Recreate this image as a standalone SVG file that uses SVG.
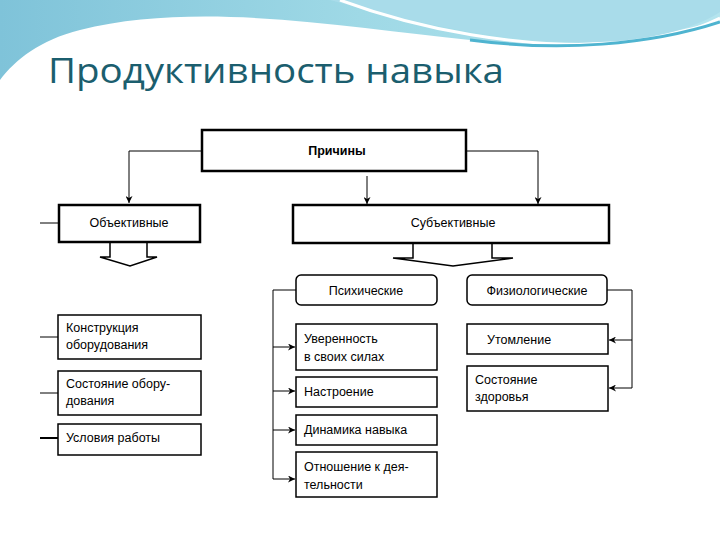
<svg xmlns="http://www.w3.org/2000/svg" width="720" height="540" viewBox="0 0 720 540">
<defs>
<linearGradient id="g" x1="0" y1="0" x2="1" y2="0"><stop offset="0" stop-color="#7fc3d9"/><stop offset="0.5" stop-color="#9fd9e6"/><stop offset="1" stop-color="#b4e4ee"/></linearGradient>
<marker id="a" viewBox="0 0 10 10" refX="10" refY="5" markerWidth="7" markerHeight="7" orient="auto"><path d="M0,0 L10,5 L0,10 L3,5 z" fill="#000"/></marker>
<style>
.b{fill:#fff;stroke:#000;stroke-width:1.5}
.h{fill:#fff;stroke:#000;stroke-width:2.5}
.t{font-family:"Liberation Sans",Arial,sans-serif;font-size:12.5px;fill:#000}
.c{fill:none;stroke:#000;stroke-width:1}
</style>
</defs>
<rect width="720" height="540" fill="#fff"/>
<path d="M0,0 H720 V20 C650,40 560,50 470,40 C350,28 200,0 80,30 C40,40 15,60 0,80 Z" fill="url(#g)"/>
<path d="M330,0 C420,25 520,45 600,42 C660,40 700,25 720,12 V0 Z" fill="#a9dcea"/>
<path d="M340,0 C420,30 520,48 610,44 C665,41 700,28 720,18" fill="none" stroke="#fff" stroke-width="3"/>
<path d="M470,40 C560,52 650,45 720,22" fill="none" stroke="#4fb4d0" stroke-width="3"/>
<text x="48" y="83" font-family="Open Sans, sans-serif" font-size="34" fill="#1b5e6e" textLength="456" lengthAdjust="spacingAndGlyphs">Продуктивность навыка</text>

<g id="connectors">
<path class="c" d="M202,151 H129 V203" marker-end="url(#a)"/>
<path class="c" d="M466,151 H538 V204" marker-end="url(#a)"/>
<path class="c" d="M367,176 V204" marker-end="url(#a)"/>
<path class="c" d="M40,223 H59"/>
<path class="c" d="M40,337 H58 M40,393 H58"/>
<path d="M40,438 H58" stroke="#000" stroke-width="2"/>
<path class="c" d="M296,290 H273 V479"/>
<path class="c" d="M273,347 H295" marker-end="url(#a)"/>
<path class="c" d="M273,391 H295" marker-end="url(#a)"/>
<path class="c" d="M273,430 H295" marker-end="url(#a)"/>
<path class="c" d="M273,479 H295" marker-end="url(#a)"/>
<path class="c" d="M607,290 H632 V388"/>
<path class="c" d="M632,340 H609" marker-end="url(#a)"/>
<path class="c" d="M632,388 H609" marker-end="url(#a)"/>
<path class="b" d="M110,242 V257 H100 L130,266 L157,257 H147 V242"/>
<path class="b" d="M413,243 V258 H393 L453,266 L513,258 H492 V243"/>
</g>

<g id="prichiny"><rect class="h" x="202" y="130" width="264" height="41"/><text class="t" x="337" y="155" text-anchor="middle" font-weight="bold">Причины</text></g>
<g id="obj"><rect class="h" x="59" y="205" width="141" height="37"/><text class="t" x="129" y="227" text-anchor="middle">Объективные</text></g>
<g id="subj"><rect class="h" x="293" y="205" width="316" height="38"/><text class="t" x="453" y="227" text-anchor="middle">Субъективные</text></g>
<g id="psych"><rect class="b" x="296" y="275" width="141" height="30" rx="5"/><text class="t" x="366" y="295" text-anchor="middle">Психические</text></g>
<g id="phys"><rect class="b" x="467" y="275" width="140" height="30" rx="5"/><text class="t" x="537" y="295" text-anchor="middle">Физиологические</text></g>
<g id="uver"><rect class="b" x="296" y="324" width="141" height="46"/><text class="t" x="304" y="343">Уверенность</text><text class="t" x="304" y="361">в своих силах</text></g>
<g id="nastr"><rect class="b" x="296" y="377" width="141" height="30"/><text class="t" x="304" y="396">Настроение</text></g>
<g id="dinam"><rect class="b" x="296" y="415" width="141" height="30"/><text class="t" x="304" y="434">Динамика навыка</text></g>
<g id="otnosh"><rect class="b" x="296" y="452" width="141" height="45"/><text class="t" x="304" y="471">Отношение к дея-</text><text class="t" x="304" y="489">тельности</text></g>
<g id="utom"><rect class="b" x="467" y="324" width="141" height="30"/><text class="t" x="487" y="344">Утомление</text></g>
<g id="zdor"><rect class="b" x="467" y="366" width="141" height="45"/><text class="t" x="475" y="384">Состояние</text><text class="t" x="475" y="401">здоровья</text></g>
<g id="konstr"><rect class="b" x="58" y="315" width="143" height="44"/><text class="t" x="66" y="332">Конструкция</text><text class="t" x="66" y="349">оборудования</text></g>
<g id="sost"><rect class="b" x="58" y="371" width="143" height="44"/><text class="t" x="66" y="388">Состояние обору-</text><text class="t" x="66" y="405">дования</text></g>
<g id="uslov"><rect class="b" x="58" y="424" width="143" height="31"/><text class="t" x="66" y="442">Условия работы</text></g>
</svg>
